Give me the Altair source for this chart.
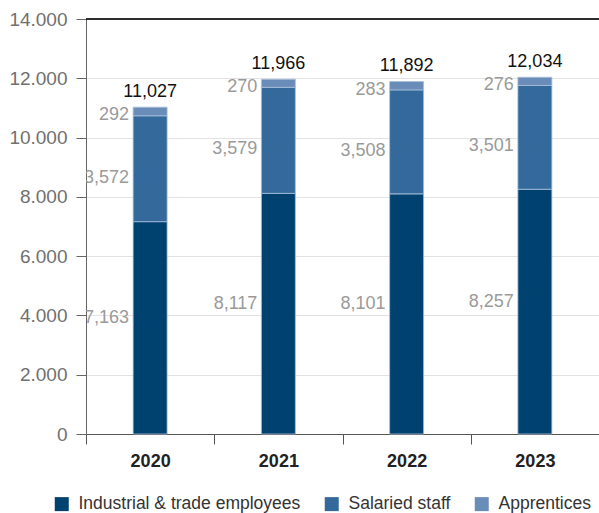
import altair as alt
import pandas as pd

years = ["2020", "2021", "2022", "2023"]
series = ["Industrial & trade employees", "Salaried staff", "Apprentices"]
industrial = [7163, 8117, 8101, 8257]
salaried = [3572, 3579, 3508, 3501]
apprentices = [292, 270, 283, 276]
totals = [11027, 11966, 11892, 12034]
colors = ["#00426f", "#336a9b", "#6a8cb8"]
y_ticks = [0, 2000, 4000, 6000, 8000, 10000, 12000, 14000]

rows = []
for i, y in enumerate(years):
    for j, (s, vals) in enumerate(zip(series, [industrial, salaried, apprentices])):
        rows.append({"year": y, "series": s, "value": vals[i], "order": j})
df = pd.DataFrame(rows)
tot = pd.DataFrame({"year": years, "total": totals})

FONT = "Liberation Sans"
W, H = 513, 415
HALF_STEP = W / len(years) / 2

x_enc = alt.X(
    "year:N",
    sort=years,
    title=None,
    scale=alt.Scale(paddingInner=0.735, paddingOuter=0.3675),
    axis=alt.Axis(
        labelFont=FONT, labelFontSize=18, labelFontWeight="bold", labelColor="#222222",
        labelAngle=0, labelPadding=8, domainColor="#555555", tickColor="#555555",
        tickSize=10, bandPosition=0.5, tickOffset=-HALF_STEP, labelOffset=HALF_STEP,
        grid=False,
    ),
)

y_scale = alt.Scale(domain=[0, 14000], nice=False)

bars = alt.Chart(df).mark_bar(stroke="#a9c0da", strokeWidth=0.8).encode(
    x=x_enc,
    y=alt.Y(
        "value:Q",
        stack="zero",
        scale=y_scale,
        title=None,
        axis=alt.Axis(
            values=y_ticks,
            labelExpr="replace(format(datum.value, ','), ',', '.')",
            labelFont=FONT, labelFontSize=19, labelColor="#707070", labelPadding=9,
            domainColor="#666666", tickColor="#666666", tickSize=10,
            gridColor="#e2e2e2", grid=True,
        ),
    ),
    color=alt.Color(
        "series:N",
        scale=alt.Scale(domain=series, range=colors),
        legend=alt.Legend(
            title=None, orient="none", direction="horizontal",
            legendX=-33, legendY=476,
            symbolType="square", symbolSize=196, symbolStrokeWidth=0,
            labelFont=FONT, labelFontSize=17.5, labelColor="#333333",
            labelOffset=8, columnPadding=22, symbolOffset=0, labelLimit=0,
        ),
    ),
    order=alt.Order("order:Q", sort="ascending"),
)

top_line = alt.Chart(tot).mark_rule(color="#222222", strokeWidth=1.2).encode(
    y=alt.datum(14000, scale=y_scale)
)

base_lab = alt.Chart(df).transform_stack(
    stack="value", groupby=["year"], as_=["y0", "y1"],
    sort=[alt.SortField("order", order="ascending")],
).transform_calculate(mid="(datum.y0 + datum.y1) / 2")

dys = [-10, 9, 4]
label_layers = []
for s, d in zip(series, dys):
    label_layers.append(
        base_lab.transform_filter(alt.datum.series == s).mark_text(
            align="right", baseline="middle", dx=-21, dy=d, font=FONT,
            fontSize=18, color="#9a9a9a", clip=True,
        ).encode(
            x=alt.X("year:N", sort=years),
            y=alt.Y("mid:Q", scale=y_scale),
            text=alt.Text("value:Q", format=","),
        )
    )

total_labels = alt.Chart(tot).mark_text(
    align="center", baseline="middle", dy=-15, font=FONT, fontSize=18, color="#111111"
).encode(
    x=alt.X("year:N", sort=years),
    y=alt.Y("total:Q", scale=y_scale),
    text=alt.Text("total:Q", format=","),
)

chart = alt.layer(bars, top_line, *label_layers, total_labels).properties(
    width=W, height=H,
    autosize=alt.AutoSizeParams(type="none"),
    padding={"left": 86, "top": 19, "right": 0, "bottom": 79},
).configure_view(stroke=None).configure(font=FONT)

chart.save("out.html", embed_options={"renderer": "svg", "actions": False})
